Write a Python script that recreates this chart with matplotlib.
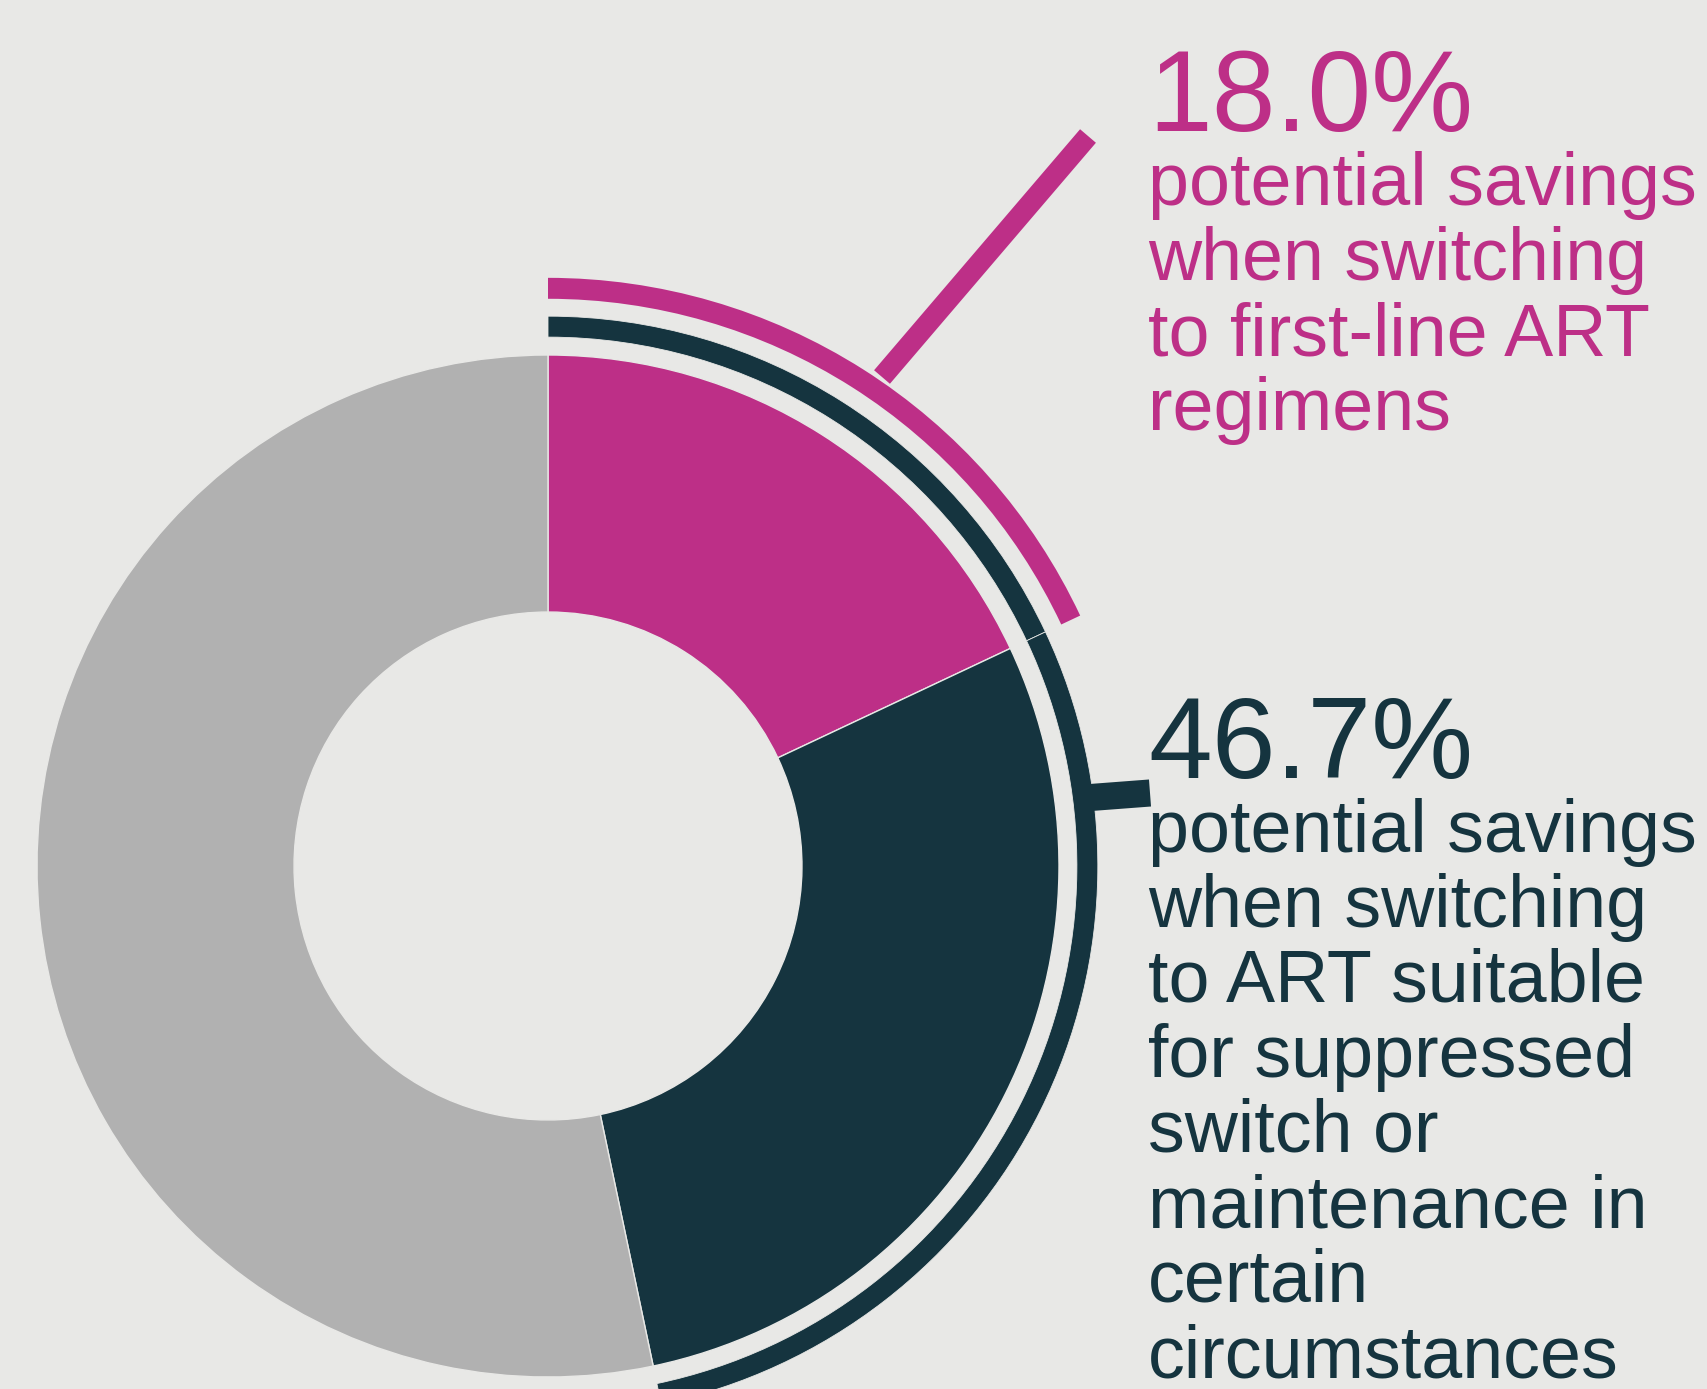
import matplotlib
matplotlib.use("Agg")
import matplotlib.pyplot as plt

# data
first_line_pct = 18.0
suppressed_pct = 46.7
ring_values = [first_line_pct, suppressed_pct - first_line_pct, 100 - suppressed_pct]

pink_big = "18.0%"
pink_lines = ["potential savings", "when switching", "to first-line ART", "regimens"]
dark_big = "46.7%"
dark_lines = ["potential savings", "when switching", "to ART suitable",
              "for suppressed", "switch or", "maintenance in", "certain",
              "circumstances"]

PINK = "#BD2F87"
DARK = "#15343F"
GREY = "#B1B1B1"
BG = "#E8E8E6"

W, H = 1707, 1389
R_PX = 511          # outer radius of the donut in pixels
CX, CY = 548, 866   # centre of the donut in pixels

plt.rcParams['font.family'] = ['Liberation Sans', 'DejaVu Sans']

fig = plt.figure(figsize=(W / 100, H / 100), dpi=100, facecolor=BG)
ax = fig.add_axes([0, 0, 1, 1])
ax.set_facecolor(BG)

# main donut
ax.pie(ring_values, colors=[PINK, DARK, GREY], startangle=90, counterclock=False,
       radius=1.0, wedgeprops=dict(width=1.0 - 0.497, edgecolor=BG, linewidth=1.0))

# outer dark arc (0 -> 46.7%)
dark_w, _ = ax.pie(ring_values, colors=[DARK, DARK, BG], startangle=90, counterclock=False,
                   radius=1.076, wedgeprops=dict(width=1.076 - 1.035, edgecolor=BG, linewidth=0.6))
dark_w[2].set_visible(False)

# outer pink arc (0 -> 18%)
pink_w, _ = ax.pie([first_line_pct, 100 - first_line_pct], colors=[PINK, BG], startangle=90,
                   counterclock=False, radius=1.151,
                   wedgeprops=dict(width=1.151 - 1.110, linewidth=0))
pink_w[1].set_visible(False)

# pie() resets the limits, so set them afterwards
ax.set_xlim(-CX / R_PX, (W - CX) / R_PX)
ax.set_ylim(-(H - CY) / R_PX, CY / R_PX)
ax.set_aspect('equal')
ax.axis('off')


def to_data(px, py):
    return (px - CX) / R_PX, (CY - py) / R_PX


# leader lines
p0, p1 = to_data(882, 377), to_data(1088, 136)
ax.plot([p0[0], p1[0]], [p0[1], p1[1]], color=PINK, lw=15, solid_capstyle='butt')
d0, d1 = to_data(1084, 798), to_data(1150, 793)
ax.plot([d0[0], d1[0]], [d0[1], d1[1]], color=DARK, lw=19.5, solid_capstyle='butt')

# labels
TX = 1148
fig.text(TX / W, 1 - 131 / H, pink_big, color=PINK, fontsize=82.5, va='baseline', ha='left')
for i, line in enumerate(pink_lines):
    fig.text(TX / W, 1 - (205 + 75 * i) / H, line, color=PINK, fontsize=53,
             va='baseline', ha='left')

fig.text(TX / W, 1 - 778 / H, dark_big, color=DARK, fontsize=82.5, va='baseline', ha='left')
for i, line in enumerate(dark_lines):
    fig.text(TX / W, 1 - (852 + 75 * i) / H, line, color=DARK, fontsize=53,
             va='baseline', ha='left')

fig.savefig("out.png", dpi=100, facecolor=BG)
